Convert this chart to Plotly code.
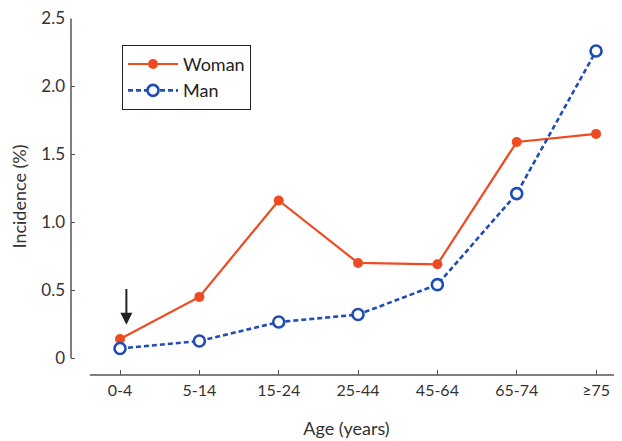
import plotly.graph_objects as go

ages = ["0-4", "5-14", "15-24", "25-44", "45-64", "65-74", "≥75"]
woman = [0.14, 0.45, 1.16, 0.70, 0.69, 1.59, 1.65]
man = [0.07, 0.125, 0.265, 0.32, 0.54, 1.21, 2.26]
yticks = [0, 0.5, 1.0, 1.5, 2.0, 2.5]
ytick_text = ["0", "0.5", "1.0", "1.5", "2.0", "2.5"]

x_idx = list(range(len(ages)))
red = "#EE4B22"
blue = "#1F4DB3"
font = "Lato"

fig = go.Figure()
fig.add_trace(go.Scatter(
    x=x_idx, y=woman, name="Woman", mode="lines+markers",
    line=dict(color=red, width=2.2),
    marker=dict(symbol="circle", size=10, color=red),
))
fig.add_trace(go.Scatter(
    x=x_idx, y=man, name="Man", mode="lines+markers",
    line=dict(color=blue, width=2.6, dash="5px,3px"),
    marker=dict(symbol="circle", size=11, color="white", line=dict(width=2.6, color=blue)),
))

# Arrow pointing at 0-4
fig.add_annotation(x=0.08, y=0.245, ax=0.08, ay=0.52, xref="x", yref="y",
                   axref="x", ayref="y", text="", showarrow=True,
                   arrowhead=2, arrowsize=1.2, arrowwidth=2, arrowcolor="#222")

# Separated axis lines
fig.add_shape(type="line", xref="paper", yref="y", x0=0, x1=0, y0=0, y1=2.5,
              line=dict(color="#555", width=1.5))
fig.add_shape(type="line", xref="x", yref="paper", x0=-0.38, x1=6.33, y0=0, y1=0,
              line=dict(color="#555", width=1.5))

fig.update_layout(
    width=614, height=433,
    margin=dict(l=63, r=0, t=10, b=66, autoexpand=False),
    paper_bgcolor="white", plot_bgcolor="white",
    font=dict(family=font, color="#333", size=16),
    showlegend=True,
    legend=dict(x=0.0926, y=0.925, xanchor="left", yanchor="top",
                bordercolor="#222", borderwidth=1, bgcolor="white",
                font=dict(size=18, color="#222"), tracegroupgap=0,
                itemwidth=50),
    xaxis=dict(range=[-0.618, 6.327], tickmode="array", tickvals=x_idx, ticktext=ages,
               showgrid=False, zeroline=False, showline=False, automargin=False,
               ticks="inside", ticklen=5, tickcolor="#555", tickwidth=1.2,
               ticklabelstandoff=4,
               tickfont=dict(size=16, color="#333"),
               title=dict(text="Age (years)", font=dict(size=18, color="#333"), standoff=24)),
    yaxis=dict(range=[-0.125, 2.503], tickmode="array", tickvals=yticks, ticktext=ytick_text,
               showgrid=False, zeroline=False, showline=False, automargin=False,
               ticks="inside", ticklen=4, tickcolor="#555", tickwidth=1.2,
               ticklabelstandoff=5, ticklabeloverflow="allow",
               tickfont=dict(size=17, color="#333"),
               title=dict(text="Incidence (%)", font=dict(size=18, color="#333"), standoff=14)),
)

fig.write_html("out.html")
